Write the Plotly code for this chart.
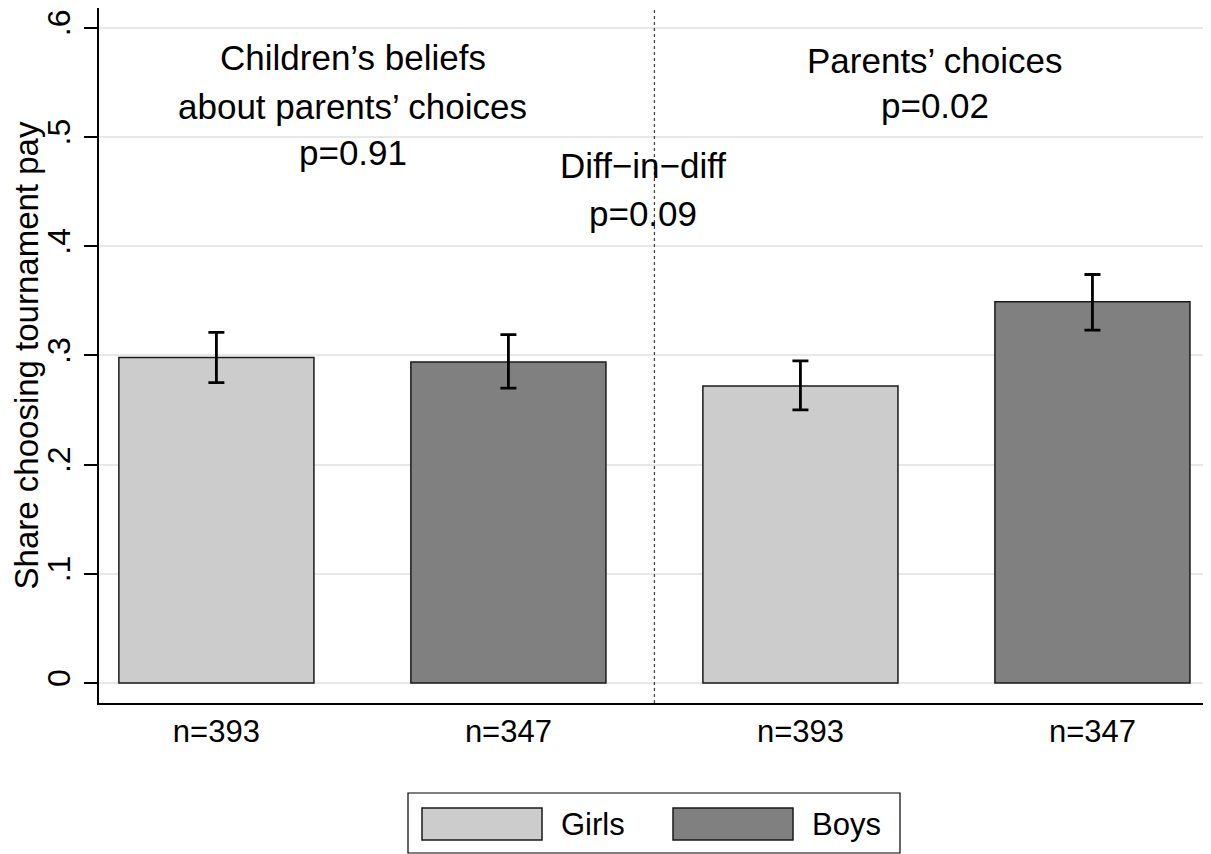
import plotly.graph_objects as go

# ---- data ----
series_names = ["Girls", "Boys"]
girls_x = [0, 2]
boys_x = [1, 3]
girls_share = [0.298, 0.272]
boys_share = [0.294, 0.349]
girls_hi = [0.321, 0.295]
girls_lo = [0.275, 0.250]
boys_hi = [0.319, 0.374]
boys_lo = [0.270, 0.323]
tick_positions = [0, 1, 2, 3]
tick_labels = ["n=393", "n=347", "n=393", "n=347"]
y_ticks = [0, 0.1, 0.2, 0.3, 0.4, 0.5, 0.6]
y_tick_labels = ["0", ".1", ".2", ".3", ".4", ".5", ".6"]
y_title = "Share choosing tournament pay"
colors = ["#cccccc", "#808080"]

# ---- layout geometry (pixels; page has an 8px body margin) ----
OFF = 8
W, H = 1211 - OFF, 854 - OFF
L, R, T, B = 99 - OFF, 0, 8 - OFF, 854 - 703
pw, ph = W - L - R, H - T - B
FONT = "Liberation Sans, Arial, Helvetica, sans-serif"
FS_ANN = 35
FS_TICK = 31
FS_YTICK = 32
FS_TITLE = 33
FS_LEG = 31


def px_x(p):
    # p is a reference-image x pixel
    return (p - OFF - L) / pw


def px_y(p):
    # p is a reference-image y pixel
    return (H - B - (p - OFF)) / ph


fig = go.Figure()
for name, xs, ys, hi, lo, col in [
    (series_names[0], girls_x, girls_share, girls_hi, girls_lo, colors[0]),
    (series_names[1], boys_x, boys_share, boys_hi, boys_lo, colors[1]),
]:
    fig.add_trace(go.Bar(
        x=xs, y=ys, name=name, width=0.668,
        marker=dict(color=col, line=dict(color="#1a1a1a", width=1.5)),
        error_y=dict(type="data", symmetric=False,
                     array=[h - v for h, v in zip(hi, ys)],
                     arrayminus=[v - l for v, l in zip(ys, lo)],
                     color="black", thickness=2.8, width=8),
        showlegend=False,
    ))

# divider between panels
fig.add_shape(type="line", xref="x", yref="paper", x0=1.5, x1=1.5, y0=0, y1=1,
              line=dict(color="#444444", width=1.3, dash="dot"))

# panel annotations
texts = [
    ("Children\u2019s beliefs", 0.467, 0.573),
    ("about parents\u2019 choices", 0.467, 0.528),
    ("p=0.91", 0.467, 0.486),
    ("Parents\u2019 choices", 2.46, 0.570),
    ("p=0.02", 2.46, 0.529),
    ("Diff\u2212in\u2212diff", 1.46, 0.474),
    ("p=0.09", 1.46, 0.430),
]
for t, x, y in texts:
    fig.add_annotation(text=t, x=x, y=y, xref="x", yref="y", showarrow=False,
                       xanchor="center", yanchor="middle",
                       font=dict(size=FS_ANN, color="black", family=FONT))

# custom legend
fig.add_shape(type="rect", xref="paper", yref="paper",
              x0=px_x(408), x1=px_x(900), y0=px_y(853), y1=px_y(793),
              line=dict(color="black", width=1.2), fillcolor="white")
for i, (name, col) in enumerate(zip(series_names, colors)):
    sx0 = [422, 673][i]
    fig.add_shape(type="rect", xref="paper", yref="paper",
                  x0=px_x(sx0), x1=px_x(sx0 + 120), y0=px_y(840), y1=px_y(808),
                  line=dict(color="#1a1a1a", width=1.5), fillcolor=col)
    fig.add_annotation(text=name, xref="paper", yref="paper",
                       x=px_x(sx0 + 137), y=px_y(824), xanchor="left", yanchor="middle",
                       showarrow=False, font=dict(size=FS_LEG, color="black", family=FONT))

fig.update_layout(
    width=W, height=H, autosize=False,
    margin=dict(l=L, r=R, t=T, b=B, pad=0),
    plot_bgcolor="white", paper_bgcolor="white",
    barmode="overlay",
    font=dict(family=FONT, size=FS_TICK, color="black"),
    xaxis=dict(range=[-0.402, 3.406], tickvals=tick_positions, ticktext=tick_labels,
               showgrid=False, zeroline=False, showline=True, linecolor="black",
               linewidth=1.5, ticks="", tickfont=dict(size=FS_TICK), automargin=False),
    yaxis=dict(range=[-0.0183, 0.618], tickvals=y_ticks, ticktext=y_tick_labels,
               tickangle=-90, showgrid=True, gridcolor="#e8e8e8", gridwidth=2,
               zeroline=False, showline=True, linecolor="black", linewidth=1.5,
               ticks="outside", ticklen=13, tickwidth=1.5, tickcolor="black",
               ticklabelstandoff=1, tickfont=dict(size=FS_YTICK), automargin=False,
               title=dict(text=y_title, font=dict(size=FS_TITLE), standoff=6)),
)

fig.write_html("out.html")
